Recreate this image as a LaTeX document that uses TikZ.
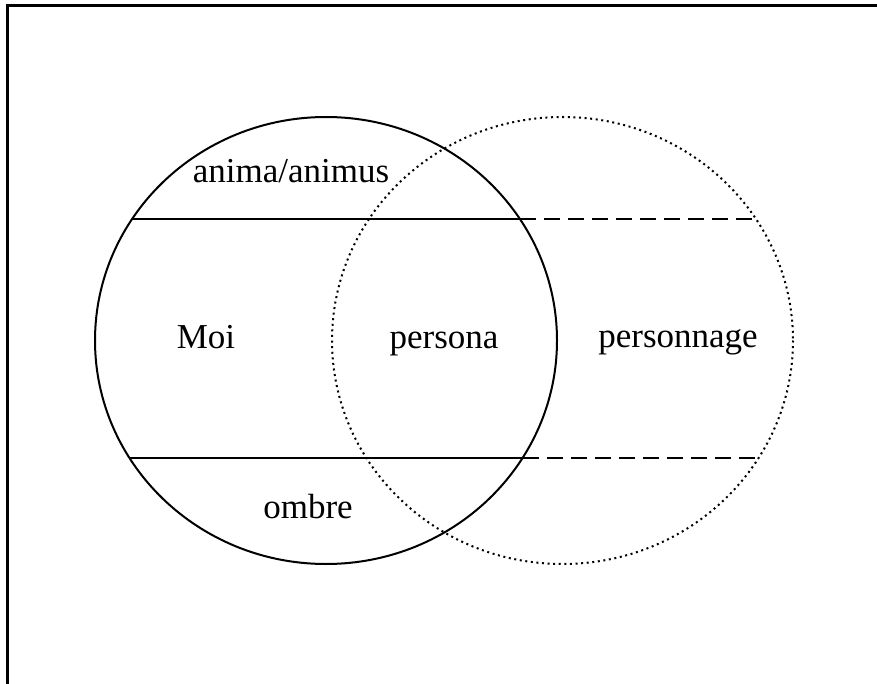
\documentclass[tikz,border=0pt]{standalone}
\usepackage{fontspec}
\setmainfont{Liberation Serif}
\begin{document}
\begin{tikzpicture}[x=1pt,y=-1pt,
  lbl/.style={anchor=base,inner sep=0pt,font=\fontsize{35}{40}\selectfont},
  frameline/.style={line width=3pt},
  solidring/.style={line width=2pt},
  dotring/.style={line width=2pt,dash pattern=on 2pt off 3.6pt},
  bandline/.style={line width=2pt},
  dashline/.style={line width=2pt,dash pattern=on 16pt off 8pt}]
\useasboundingbox (0,0) rectangle (877,684);
\fill[white] (0,0) rectangle (877,684);
% frame (top and left only)
\coordinate (fl) at (7.5,684);
\coordinate (fc) at (7.5,5.5);
\coordinate (fr) at (877,5.5);
\draw[frameline] (fl) -- (fc) -- (fr);
% circles
\coordinate (c1) at (326,340.5);
\coordinate (c2) at (562.5,340.5);
\draw[solidring] (c1) ellipse [x radius=231, y radius=223.5];
\draw[dotring] (c2) ellipse [x radius=230.5, y radius=223.5];
% band lines
\coordinate (t1) at (132,219);
\coordinate (t2) at (520,219);
\coordinate (t3) at (756,219);
\coordinate (b1) at (129.5,458);
\coordinate (b2) at (522.5,458);
\coordinate (b3) at (758.5,458);
\draw[bandline] (t1) -- (t2);
\draw[dashline] (t2) -- (t3);
\draw[bandline] (b1) -- (b2);
\draw[dashline] (b2) -- (b3);
% labels
\node[lbl] (anima) at (291,183) {anima/animus};
\node[lbl] (moi) at (206,348) {Moi};
\node[lbl] (persona) at (444,348) {persona};
\node[lbl] (personnage) at (678,347) {personnage};
\node[lbl] (ombre) at (308,518) {ombre};
\end{tikzpicture}
\end{document}
